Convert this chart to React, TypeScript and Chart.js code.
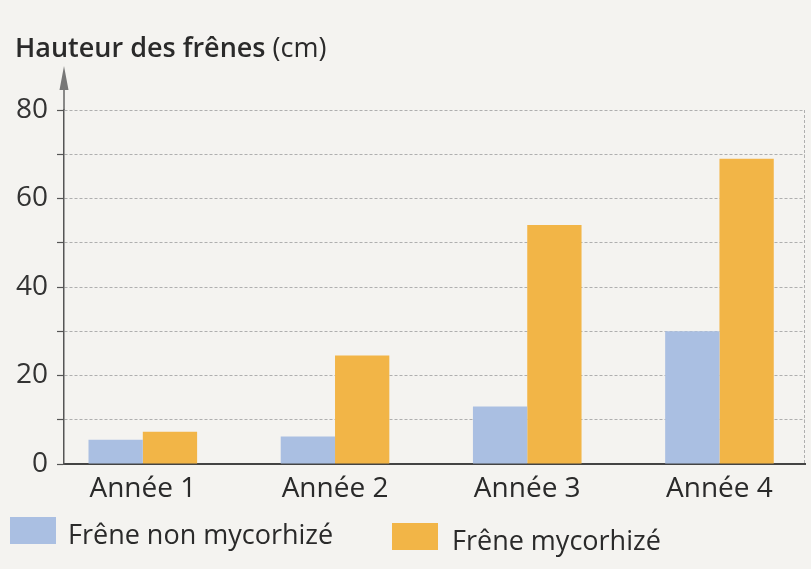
import React, { useEffect, useRef } from "react";
import { Chart, registerables } from "chart.js";

Chart.register(...registerables);

// ---- data ----
const categories = ["Année 1", "Année 2", "Année 3", "Année 4"];
const nonMycorhize = [5.5, 6.2, 13, 30];
const mycorhize = [7.3, 24.5, 54, 69];
const seriesNames = ["Frêne non mycorhizé", "Frêne mycorhizé"];
const yLabelTicks = [0, 20, 40, 60, 80];
const titleMain = "Hauteur des frênes";
const titleUnit = "(cm)";

// ---- style ----
const FONT = "'Open Sans', 'Noto Sans', sans-serif";
const BLUE = "#aabfe2";
const ORANGE = "#f2b547";
const BG = "#f4f3f0";
const TEXT = "#2a2a2a";
const GRID = "#afafaf";

const decorPlugin = {
  id: "decor",
  beforeDraw(chart: any) {
    const { ctx, width, height } = chart;
    ctx.save();
    ctx.fillStyle = BG;
    ctx.fillRect(0, 0, width, height);
    ctx.restore();
  },
  afterDraw(chart: any) {
    const { ctx } = chart;
    const { left, top, right, bottom } = chart.chartArea;
    ctx.save();
    // right dashed border
    ctx.strokeStyle = GRID;
    ctx.lineWidth = 1;
    ctx.setLineDash([3, 2]);
    ctx.beginPath();
    ctx.moveTo(right - 0.5, top);
    ctx.lineTo(right - 0.5, bottom);
    ctx.stroke();
    ctx.setLineDash([]);

    // y axis arrow
    ctx.strokeStyle = "#666";
    ctx.lineWidth = 1.5;
    ctx.beginPath();
    ctx.moveTo(left, top);
    ctx.lineTo(left, top - 30);
    ctx.stroke();
    ctx.fillStyle = "#777";
    ctx.beginPath();
    ctx.moveTo(left, top - 44);
    ctx.lineTo(left - 4.5, top - 20);
    ctx.lineTo(left + 4.5, top - 20);
    ctx.closePath();
    ctx.fill();

    // title
    ctx.fillStyle = TEXT;
    ctx.textBaseline = "alphabetic";
    ctx.textAlign = "left";
    ctx.font = `600 27px ${FONT}`;
    ctx.fillText(titleMain, 15, 57);
    const w = ctx.measureText(titleMain + " ").width;
    ctx.font = `400 27px ${FONT}`;
    ctx.fillText(titleUnit, 15 + w, 57);

    // legend
    const items = [
      { label: seriesNames[0], color: BLUE, x: 10, y: 517, tx: 68 },
      { label: seriesNames[1], color: ORANGE, x: 392, y: 523, tx: 452 },
    ];
    ctx.font = `400 27px ${FONT}`;
    items.forEach((it) => {
      ctx.fillStyle = it.color;
      ctx.fillRect(it.x, it.y, 46, 27);
      ctx.fillStyle = TEXT;
      ctx.fillText(it.label, it.tx, it.y + 27);
    });
    ctx.restore();
  },
};

export default function App() {
  const ref = useRef<HTMLCanvasElement | null>(null);

  useEffect(() => {
    if (!ref.current) return;
    const chart = new Chart(ref.current, {
      type: "bar",
      data: {
        datasets: [
          {
            label: seriesNames[0],
            data: nonMycorhize.map((y, i) => ({ x: i, y })),
            backgroundColor: BLUE,
            borderWidth: 0,
          },
          {
            label: seriesNames[1],
            data: mycorhize.map((y, i) => ({ x: i, y })),
            backgroundColor: ORANGE,
            borderWidth: 0,
          },
        ],
      },
      options: {
        responsive: false,
        animation: false,
        devicePixelRatio: 1,
        categoryPercentage: 0.565,
        barPercentage: 1,
        layout: { padding: { top: 110, right: 6, left: 0, bottom: 0 } },
        plugins: {
          legend: { display: false },
          tooltip: { enabled: false },
          title: { display: false },
        },
        scales: {
          x: {
            type: "linear",
            offset: false,
            min: -0.41,
            max: 3.445,
            afterBuildTicks: (s: any) => {
              s.ticks = categories.map((_, i) => ({ value: i }));
            },
            afterFit: (s: any) => {
              s.height = 105;
            },
            grid: { display: false, drawTicks: false },
            border: { display: true, color: "#444", width: 2 },
            ticks: {
              autoSkip: false,
              maxRotation: 0,
              padding: 8,
              color: TEXT,
              font: { family: FONT, size: 28 },
              callback: (v: any) => categories[v] ?? "",
            },
          },
          y: {
            min: 0,
            max: 80,
            afterFit: (s: any) => {
              s.width = 64;
            },
            ticks: {
              stepSize: 10,
              autoSkip: false,
              padding: 9,
              color: "#333",
              font: { family: FONT, size: 28 },
              callback: (v: any) => (yLabelTicks.includes(v) ? String(v) : ""),
            },
            grid: {
              color: GRID,
              lineWidth: 1,
              drawTicks: true,
              tickLength: 7,
              tickColor: "#555",
              tickWidth: 1.2,
              tickBorderDash: [],
            },
            border: { display: true, color: "#555", width: 1.5, dash: [3, 2] },
          },
        },
      },
      plugins: [decorPlugin],
    } as any);
    return () => chart.destroy();
  }, []);

  return (
    <div style={{ position: "absolute", left: 0, top: 0, width: 811, height: 569 }}>
      <canvas ref={ref} width={811} height={569} style={{ display: "block" }} />
    </div>
  );
}
